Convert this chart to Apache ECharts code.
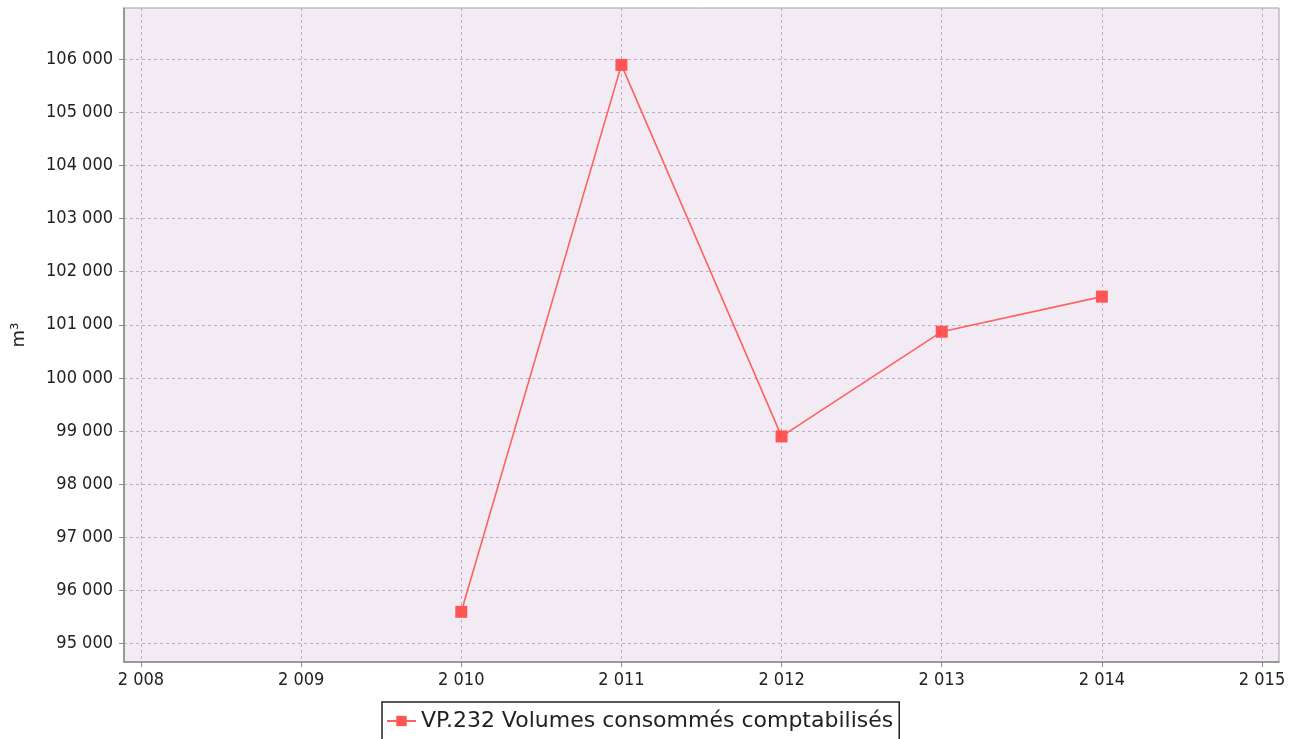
<!DOCTYPE html>
<html>
<head>
<meta charset="utf-8">
<script src="https://cdn.jsdelivr.net/npm/echarts@6/dist/echarts.min.js"></script>
<style>
  html, body { margin: 0; padding: 0; background: #fff; }
  #chart { width: 1301px; height: 739px; }
</style>
</head>
<body>
<div id="chart"></div>
<script>
// data
const years = [2010, 2011, 2012, 2013, 2014];
const volumes = [95600, 105890, 98900, 100870, 101530];
const xTicks = [2008, 2009, 2010, 2011, 2012, 2013, 2014, 2015];
const yTicks = [95000, 96000, 97000, 98000, 99000, 100000, 101000, 102000, 103000, 104000, 105000, 106000];
const seriesName = 'VP.232 Volumes consommés comptabilisés';

// thousands separated by a space, like the original
function fmt(v) {
  return String(Math.round(v)).replace(/\B(?=(\d{3})+(?!\d))/g, ' ');
}

const chart = echarts.init(document.getElementById('chart'));
const gridLine = { show: true, lineStyle: { color: '#c4a4d0', type: [3, 3], width: 1 } };
const labelFont = { color: '#222', fontSize: 18, fontFamily: 'DejaVu Sans Condensed, DejaVu Sans, sans-serif' };

const option = {
  animation: false,
  grid: {
    left: 124, top: 8, right: 22, bottom: 77,
    outerBoundsMode: 'none',
    containLabel: false,
    show: true,
    backgroundColor: '#f2ebf3',
    borderColor: '#a0a0a0',
    borderWidth: 1
  },
  xAxis: {
    type: 'value',
    min: 2007.894,
    max: 2015.106,
    axisLine: { show: true, lineStyle: { color: '#888', width: 1.5 } },
    axisTick: { show: true, length: 5, customValues: xTicks, lineStyle: { color: '#888' } },
    axisLabel: Object.assign({ customValues: xTicks, formatter: fmt, margin: 9 }, labelFont),
    splitLine: gridLine
  },
  yAxis: {
    type: 'value',
    min: 94656,
    max: 106960,
    name: 'm³',
    nameLocation: 'middle',
    nameRotate: 90,
    nameGap: 96,
    nameTextStyle: { color: '#222', fontSize: 18, fontFamily: 'DejaVu Sans, sans-serif' },
    axisLine: { show: true, lineStyle: { color: '#888', width: 1.5 } },
    axisTick: { show: true, length: 5, customValues: yTicks, lineStyle: { color: '#888' } },
    axisLabel: Object.assign({ customValues: yTicks, formatter: fmt, margin: 11 }, labelFont),
    splitLine: gridLine
  },
  legend: {
    show: true,
    top: 702,
    left: 382,
    padding: [8, 6, 12, 4],
    borderColor: '#222',
    borderWidth: 1.5,
    itemWidth: 29,
    itemHeight: 13,
    itemGap: 4,
    textStyle: { color: '#222', fontSize: 22, fontFamily: 'DejaVu Sans, sans-serif' },
    data: [seriesName]
  },
  series: [{
    name: seriesName,
    type: 'line',
    data: years.map((y, i) => [y, volumes[i]]),
    symbol: 'rect',
    symbolSize: 12,
    color: '#ff5555',
    itemStyle: { color: '#ff5555' },
    lineStyle: { color: '#ff6060', width: 1.6 }
  }]
};
chart.setOption(option);
</script>
</body>
</html>
